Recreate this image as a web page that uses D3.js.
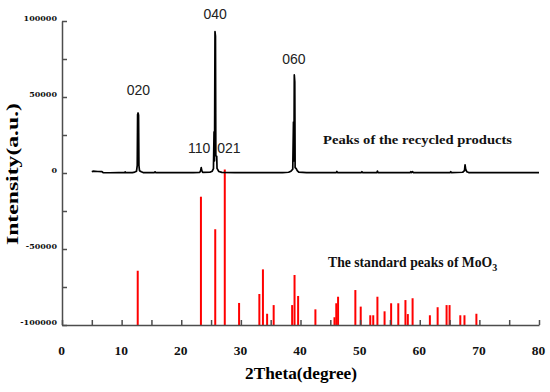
<!DOCTYPE html>
<html>
<head>
<meta charset="utf-8">
<script src="https://cdn.jsdelivr.net/npm/d3@7"></script>
<style>
  body { margin: 0; background: #fff; }
  svg { display: block; }
  .axis path, .axis line { stroke: #4d4d4d; stroke-width: 1.5; }
  .axis text { fill: #111; font-family: "Liberation Serif", serif; font-weight: bold; }
  .y.axis text { font-family: "DejaVu Serif", serif; font-size: 8px; }
</style>
</head>
<body>
<script>
// XRD trace of the recycled product (2theta, counts)
var xrdTheta = [5.0, 5.2, 6.0, 6.7, 6.9, 8, 9.5, 10.5, 10.6, 10.7, 11.8, 12.2, 12.5, 12.62, 12.68, 12.76, 12.84, 12.9, 13.0, 13.3, 13.6,
  15.5, 15.6, 15.7, 18, 20, 22, 23.1, 23.25, 23.35, 23.45, 23.6, 24.8, 25.2, 25.4, 25.5, 25.58, 25.66, 25.74, 25.8, 25.95, 26.0, 26.3, 26.8,
  29, 31, 33.5, 35, 37, 38.0, 38.4, 38.7, 38.82, 38.9, 38.96, 39.04, 39.1, 39.3, 39.45, 39.7, 41, 44, 46.0, 46.1, 46.2, 49,
  50.2, 50.3, 50.4, 52.8, 52.9, 53.0, 55, 58.4, 58.5, 58.6, 58.8, 58.9, 62, 65.1, 65.2, 65.3, 67.2, 67.5, 67.6, 67.7, 67.9, 68.2, 72, 76, 80];
var xrdInt = [800, 1200, 1000, 900, 200, 150, 250, 300, 700, 250, 300, 600, 1200, 5000, 38500, 39500, 38000, 5000, 1500, 800, 300,
  250, 800, 250, 200, 300, 250, 400, 1500, 3500, 1500, 400, 500, 1200, 2800, 27000, 8000, 93000, 90000, 11500, 11000, 3000, 1000, 400,
  300, 250, 300, 250, 300, 500, 1200, 2500, 33500, 8000, 64500, 60000, 3500, 2800, 1500, 600, 300, 250, 300, 1000, 300, 250,
  300, 900, 300, 300, 1300, 300, 250, 300, 900, 300, 900, 300, 250, 300, 900, 300, 500, 1500, 5300, 2500, 800, 300, 250, 300, 250];

// standard MoO3 stick pattern (drawn up from -100000)
var stdTheta = [12.7, 23.3, 25.7, 27.3, 29.7, 33.1, 33.7, 34.4, 35.5, 38.6, 39.0, 39.6, 42.5, 45.7, 46.0, 46.3, 49.2, 50.1,
  51.7, 52.2, 52.9, 54.1, 55.2, 56.4, 57.6, 58.0, 58.8, 61.7, 63.0, 64.5, 65.0, 66.8, 67.5, 69.5];
var stdInt = [-64300, -15600, -37000, 2300, -85500, -79600, -63400, -92600, -86900, -86900, -67100, -80900, -89700, -94900, -85700, -81400, -77000, -87900,
  -93600, -93600, -81400, -91000, -85700, -85700, -83600, -92800, -82400, -93600, -88300, -86900, -86900, -93600, -93600, -92600];

var hklLabels = ["020", "110", "040", "021", "060"];
var hklTheta = [12.8, 23.0, 25.7, 28.0, 38.9];
var hklInt = [51000, 13000, 101000, 13000, 72000];

var xTicks = [0, 10, 20, 30, 40, 50, 60, 70, 80];
var yTicks = [-100000, -50000, 0, 50000, 100000];

var W = 550, H = 392;
var svg = d3.select("body").append("svg").attr("width", W).attr("height", H);

var x = d3.scaleLinear().domain([0, 80]).range([62, 539]);
var y = d3.scaleLinear().domain([-100000, 100000]).range([325, 21]);

// red sticks
svg.append("g").selectAll("line")
    .data(stdTheta)
  .enter().append("line")
    .attr("x1", function(d) { return x(d); })
    .attr("x2", function(d) { return x(d); })
    .attr("y1", y(-100000))
    .attr("y2", function(d, i) { return y(stdInt[i]); })
    .attr("stroke", "#ff0000")
    .attr("stroke-width", 2);

// black trace
var line = d3.line()
    .x(function(d) { return x(d[0]); })
    .y(function(d) { return y(d[1]); });

svg.append("path")
    .datum(d3.zip(xrdTheta, xrdInt))
    .attr("d", line)
    .attr("fill", "none")
    .attr("stroke", "#000")
    .attr("stroke-width", 1.7)
    .attr("stroke-linejoin", "round");

// axes (ticks inside)
var xAxis = d3.axisBottom(x)
    .tickValues(d3.range(0, 81, 5))
    .tickSizeInner(-5).tickSizeOuter(0)
    .tickFormat(function(d) { return xTicks.indexOf(d) >= 0 ? d : ""; });

var gx = svg.append("g")
    .attr("class", "x axis")
    .attr("transform", "translate(0," + y(-100000) + ")")
    .call(xAxis);
gx.selectAll("text").attr("font-size", 13.5).attr("y", 20).attr("dx", -1);

var yAxis = d3.axisLeft(y)
    .tickValues(d3.range(-100000, 100001, 25000))
    .tickSizeInner(-5).tickSizeOuter(0)
    .tickFormat(function(d) { return yTicks.indexOf(d) >= 0 ? d : ""; });

var gy = svg.append("g")
    .attr("class", "y axis")
    .attr("transform", "translate(" + x(0) + ",0)")
    .call(yAxis);
gy.selectAll("text")
    .attr("x", -5)
    .attr("dy", "-0.1em");

// axis titles
svg.append("text")
    .attr("x", 301).attr("y", 379)
    .attr("text-anchor", "middle")
    .attr("font-family", "'Liberation Serif', serif")
    .attr("font-weight", "bold")
    .attr("font-size", 17)
    .attr("textLength", 112)
    .attr("lengthAdjust", "spacingAndGlyphs")
    .text("2Theta(degree)");

svg.append("text")
    .attr("transform", "translate(18,174) rotate(-90)")
    .attr("text-anchor", "middle")
    .attr("font-family", "'Liberation Serif', serif")
    .attr("font-weight", "bold")
    .attr("font-size", 17)
    .attr("textLength", 142)
    .attr("lengthAdjust", "spacingAndGlyphs")
    .text("Intensity(a.u.)");

// peak labels
svg.append("g").selectAll("text")
    .data(hklLabels)
  .enter().append("text")
    .attr("x", function(d, i) { return x(hklTheta[i]); })
    .attr("y", function(d, i) { return y(hklInt[i]); })
    .attr("text-anchor", "middle")
    .attr("font-family", "'Liberation Sans', Arial, sans-serif")
    .attr("font-size", 14)
    .attr("fill", "#222")
    .text(function(d) { return d; });

// series captions
svg.append("text")
    .attr("x", 323).attr("y", 144)
    .attr("font-family", "'Liberation Serif', serif")
    .attr("font-weight", "bold")
    .attr("font-size", 13)
    .attr("textLength", 189)
    .attr("lengthAdjust", "spacingAndGlyphs")
    .attr("fill", "#111")
    .text("Peaks of the recycled products");

var cap = svg.append("text")
    .attr("x", 328).attr("y", 267)
    .attr("font-family", "'Liberation Serif', serif")
    .attr("font-weight", "bold")
    .attr("font-size", 13.7)
    .attr("fill", "#111");
cap.append("tspan").text("The standard peaks of MoO");
cap.append("tspan").attr("dy", 4).attr("font-size", 10).text("3");
</script>
</body>
</html>
